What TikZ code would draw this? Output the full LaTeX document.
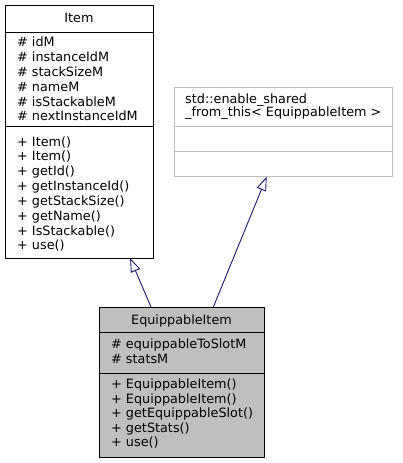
\documentclass[tikz,border=0pt]{standalone}
\usepackage{fontspec}
\setmainfont{DejaVu Sans}
\usetikzlibrary{arrows.meta,calc}
\definecolor{navy}{RGB}{25,25,112}
\definecolor{boxgrey}{RGB}{191,191,191}
\definecolor{framegrey}{RGB}{191,191,191}

\begin{document}
\begin{tikzpicture}[x=1pt,y=-1pt,font=\fontsize{12.8}{14.7}\selectfont,
  umlbox/.style={draw, line width=0.9pt, inner sep=0pt, outer sep=0pt, anchor=north west},
  member/.style={anchor=base west, inner sep=0pt},
  classname/.style={anchor=base, inner sep=0pt},
  inherit/.style={-{Triangle[open,length=14pt,width=10pt]}, navy, line width=0.9pt}]
\useasboundingbox (0,0) rectangle (403,463);

% base class
\node[umlbox, fill=white, minimum width=148pt, minimum height=253pt] (item) at (5,5) {};
\draw[line width=0.9pt] ($(item.north west)+(0,27.3)$) -- ($(item.north east)+(0,27.3)$);
\draw[line width=0.9pt] ($(item.north west)+(0,121.7)$) -- ($(item.north east)+(0,121.7)$);
\node[classname] (itemname) at ($(item.north)+(0,17.3)$) {Item};
\foreach \m [count=\i from 0] in {idM,instanceIdM,stackSizeM,nameM,isStackableM,nextInstanceIdM}
  \node[member] (itemattr\i) at ($(item.north west)+(12,41.7+14.85*\i)$) {\# \m};
\foreach \m [count=\i from 0] in {Item(),Item(),getId(),getInstanceId(),getStackSize(),getName(),IsStackable(),use()}
  \node[member] (itemop\i) at ($(item.north west)+(12,141+14.85*\i)$) {+ \m};

% template base
\node[umlbox, draw=framegrey, fill=white, minimum width=218.4pt, minimum height=89.4pt] (enable) at (174.3,87.3) {};
\draw[line width=0.9pt, framegrey] ($(enable.north west)+(0,39.4)$) -- ($(enable.north east)+(0,39.4)$);
\draw[line width=0.9pt, framegrey] ($(enable.north west)+(0,64.4)$) -- ($(enable.north east)+(0,64.4)$);
\node[member] (enablename1) at ($(enable.north west)+(10.7,15.7)$) {std::enable\_shared};
\node[member] (enablename2) at ($(enable.north west)+(10.7,29.5)$) {\_from\_this< EquippableItem >};

% derived class
\node[umlbox, fill=boxgrey, minimum width=165pt, minimum height=150pt] (equip) at (99,307) {};
\draw[line width=0.9pt] ($(equip.north west)+(0,25)$) -- ($(equip.north east)+(0,25)$);
\draw[line width=0.9pt] ($(equip.north west)+(0,66)$) -- ($(equip.north east)+(0,66)$);
\node[classname] (equipname) at ($(equip.north)+(0,17)$) {EquippableItem};
\foreach \m [count=\i from 0] in {equippableToSlotM,statsM}
  \node[member] (equipattr\i) at ($(equip.north west)+(12,41.7+14.6*\i)$) {\# \m};
\foreach \m [count=\i from 0] in {EquippableItem(),EquippableItem(),getEquippableSlot(),getStats(),use()}
  \node[member] (equipop\i) at ($(equip.north west)+(12,81.5+14.6*\i)$) {+ \m};

% inheritance
\draw[inherit] ($(equip.north west)!0.315!(equip.north east)$) -- ($(item.south west)!0.845!(item.south east)$);
\draw[inherit] ($(equip.north west)!0.693!(equip.north east)$) -- ($(enable.south west)!0.423!(enable.south east)$);
\end{tikzpicture}
\end{document}
